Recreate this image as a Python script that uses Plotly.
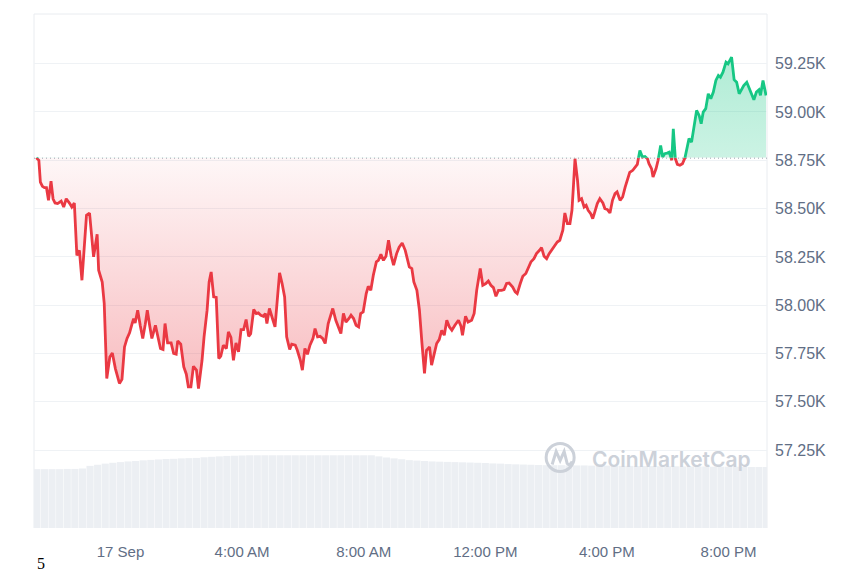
import pandas as pd
import plotly.graph_objects as go

# ---------------- data ----------------
start_time = pd.Timestamp("2024-09-16 21:14")
open_price = 58763

minutes = [0, 5, 8, 12, 16, 20, 24, 29, 33, 37, 42, 49, 54, 59, 66, 70, 75, 80, 85, 90,
           99, 105, 113, 120, 123, 130, 134, 139, 145, 150, 156, 164, 169, 174, 179, 184, 189, 192, 195, 200,
           205, 210, 215, 219, 223, 228, 235, 239, 245, 250, 254, 259, 266, 271, 276, 279, 285, 291, 296, 300,
           305, 310, 316, 320, 327, 331, 337, 341, 345, 350, 355, 360, 364, 369, 375, 379, 384, 389, 394, 399,
           404, 409, 414, 419, 423, 429, 434, 438, 443, 448, 452, 455, 460, 467, 471, 476, 480, 485, 490, 494,
           500, 504, 511, 515, 521, 525, 530, 535, 540, 546, 550, 555, 560, 565, 570, 576, 581, 585, 591, 596,
           601, 606, 611, 617, 621, 626, 631, 636, 640, 645, 651, 655, 660, 665, 671, 675, 680, 685, 690, 695,
           700, 705, 711, 716, 722, 728, 732, 736, 741, 745, 751, 756, 761, 766, 770, 776, 780, 785, 790, 795,
           800, 805, 810, 815, 820, 826, 833, 838, 841, 847, 852, 859, 864, 869, 876, 881, 887, 892, 897, 902,
           907, 912, 918, 923, 928, 933, 940, 945, 949, 955, 960, 966, 971, 976, 982, 987, 993, 997, 1002, 1007,
           1012, 1019, 1024, 1028, 1033, 1039, 1043, 1048, 1053, 1057, 1060, 1063, 1068, 1071, 1076, 1081, 1085, 1089, 1094, 1098,
           1102, 1107, 1112, 1118, 1122, 1127, 1132, 1137, 1142, 1146, 1152, 1157, 1162, 1166, 1171, 1177, 1181, 1186, 1191, 1196,
           1201, 1206, 1209, 1214, 1217, 1223, 1227, 1232, 1236, 1240, 1245, 1249, 1254, 1257, 1261, 1265, 1270, 1275, 1280, 1284,
           1288, 1293, 1298, 1303, 1308, 1312, 1316, 1321, 1326, 1331, 1336, 1341, 1346, 1350, 1355, 1361, 1365, 1372, 1377, 1382,
           1387, 1392, 1396, 1402, 1407, 1411, 1416, 1421, 1426, 1429, 1434, 1440]

prices = [58763, 58750, 58637, 58615, 58608, 58608, 58543, 58642, 58551, 58529, 58526, 58539, 58508, 58551, 58526, 58508, 58529, 58258, 58284, 58129,
          58465, 58477, 58250, 58367, 58181, 58120, 58009, 57621, 57732, 57753, 57672, 57595, 57616, 57784, 57828, 57857, 57905, 57931, 57908, 57974,
          57896, 57828, 57902, 57974, 57905, 57828, 57896, 57845, 57776, 57771, 57905, 57805, 57805, 57750, 57746, 57815, 57798, 57681, 57643, 57577,
          57577, 57684, 57664, 57569, 57715, 57836, 57974, 58120, 58172, 58043, 58040, 57724, 57736, 57793, 57776, 57862, 57833, 57715, 57805, 57758,
          57874, 57874, 57926, 57839, 57853, 57978, 57957, 57960, 57948, 57943, 57957, 57905, 57983, 57922, 57888, 58043, 58167, 58112, 58043, 57836,
          57771, 57798, 57793, 57767, 57715, 57664, 57776, 57746, 57793, 57828, 57879, 57836, 57839, 57828, 57802, 57905, 57948, 57983, 57922, 57888,
          57853, 57957, 57913, 57931, 57948, 57931, 57896, 57888, 57957, 57965, 58060, 58098, 58077, 58155, 58224, 58232, 58263, 58232, 58253, 58336,
          58258, 58207, 58267, 58300, 58322, 58284, 58241, 58198, 58190, 58120, 58077, 57974, 57802, 57647, 57767, 57784, 57690, 57750, 57802, 57822,
          57870, 57845, 57922, 57888, 57870, 57896, 57922, 57891, 57845, 57943, 57913, 57922, 57957, 58077, 58190, 58103, 58112, 58125, 58103, 58091,
          58046, 58077, 58077, 58081, 58112, 58115, 58094, 58069, 58060, 58112, 58150, 58164, 58190, 58224, 58241, 58267, 58284, 58298, 58253, 58241,
          58267, 58293, 58315, 58327, 58336, 58388, 58477, 58422, 58422, 58491, 58620, 58758, 58646, 58543, 58551, 58508, 58517, 58491, 58474, 58448,
          58482, 58526, 58551, 58529, 58500, 58495, 58477, 58543, 58577, 58586, 58543, 58560, 58611, 58646, 58687, 58698, 58713, 58729, 58801, 58767,
          58770, 58758, 58732, 58707, 58663, 58707, 58750, 58827, 58767, 58784, 58787, 58792, 58750, 58913, 58758, 58729, 58724, 58732, 58763, 58818,
          58862, 58844, 58922, 59008, 58982, 58939, 58999, 59017, 59094, 59069, 59103, 59163, 59189, 59180, 59206, 59258, 59249, 59284, 59167, 59154,
          59094, 59115, 59137, 59154, 59120, 59091, 59063, 59103, 59115, 59086, 59163, 59086]

# 15-minute volume bars (billions USD)
volume_start = pd.Timestamp("2024-09-16 21:15")
volume = [26.7, 26.7, 26.7, 26.7, 26.8, 26.8, 27.0, 28.2, 28.7, 29.2, 29.6, 29.9, 30.2, 30.4, 30.7, 30.9,
          31.1, 31.3, 31.4, 31.6, 31.7, 31.8, 32.1, 32.3, 32.5, 32.7, 32.8, 32.9, 33.0,
          33.0, 33.0, 33.0, 33.0, 33.0, 33.0, 33.0, 33.0, 33.0, 33.0, 33.0, 33.0, 33.0, 33.0, 33.0, 33.0,
          32.5, 32.0, 31.6, 31.2, 30.8, 30.6, 30.4, 30.2, 30.1, 30.0, 29.9, 29.8, 29.7, 29.6, 29.5, 29.3,
          29.2, 29.0, 28.9, 28.8, 28.7, 28.6,
          28.5, 28.5, 28.5, 28.4, 28.4, 28.4, 28.3, 28.3, 28.3, 28.2, 28.2, 28.2, 28.1, 28.1, 28.1, 28.0,
          28.0, 28.0, 27.9, 27.9, 27.9, 27.9, 27.8, 27.8, 27.8, 27.8, 27.7, 27.7, 27.7, 27.7]

y_ticks = [57250, 57500, 57750, 58000, 58250, 58500, 58750, 59000, 59250]
y_tick_labels = ["57.25K", "57.50K", "57.75K", "58.00K", "58.25K", "58.50K", "58.75K", "59.00K", "59.25K"]
x_ticks = ["2024-09-17 00:00", "2024-09-17 04:00", "2024-09-17 08:00",
           "2024-09-17 12:00", "2024-09-17 16:00", "2024-09-17 20:00"]
x_tick_labels = ["17 Sep", "4:00 AM", "8:00 AM", "12:00 PM", "4:00 PM", "8:00 PM"]

# ---------------- derived ----------------
times = start_time + pd.to_timedelta(minutes, unit="min")
vol_times = pd.date_range(volume_start, periods=len(volume), freq="15min")

Y_MIN, Y_MAX = 56847, 59507
split = (open_price - Y_MIN) / (Y_MAX - Y_MIN)
X_RANGE = ["2024-09-16 21:09:24", "2024-09-17 21:15:54"]

RED = "#ea3943"
GREEN = "#16c784"
GRID = "#eff2f5"
TXT = "#616e85"
FONT = "Liberation Sans, Arial, sans-serif"

fig = go.Figure()

# volume bars
fig.add_trace(go.Bar(x=vol_times, y=volume, yaxis="y3", marker=dict(color="#eceff3", line=dict(width=0)),
                     hoverinfo="skip", showlegend=False))

# red part (below the open price)
fig.add_trace(go.Scatter(x=[times[0], times[-1]], y=[open_price, open_price], yaxis="y",
                         mode="lines", line=dict(width=0, color="rgba(0,0,0,0)"),
                         hoverinfo="skip", showlegend=False))
fig.add_trace(go.Scatter(x=times, y=prices, yaxis="y", mode="lines",
                         line=dict(color=RED, width=2.8), fill="tonexty",
                         fillgradient=dict(type="vertical",
                                           colorscale=[[0, "rgba(234,57,67,0.34)"], [1, "rgba(234,57,67,0.04)"]],
                                           start=57560, stop=open_price),
                         hoverinfo="skip", showlegend=False))

# green part (above the open price)
fig.add_trace(go.Scatter(x=[times[0], times[-1]], y=[open_price, open_price], yaxis="y2",
                         mode="lines", line=dict(width=0, color="rgba(0,0,0,0)"),
                         hoverinfo="skip", showlegend=False))
fig.add_trace(go.Scatter(x=times, y=prices, yaxis="y2", mode="lines",
                         line=dict(color=GREEN, width=2.8), fill="tonexty",
                         fillgradient=dict(type="vertical",
                                           colorscale=[[0, "rgba(22,199,132,0.22)"], [1, "rgba(22,199,132,0.34)"]],
                                           start=open_price, stop=59290),
                         hoverinfo="skip", showlegend=False))

red_ticks = [v for v in y_ticks if v <= open_price]
green_ticks = [v for v in y_ticks if v > open_price]

axis_common = dict(side="right", showgrid=True, gridcolor=GRID, gridwidth=1, zeroline=False,
                   showline=False, ticks="", tickfont=dict(family=FONT, size=16, color=TXT),
                   ticklabelstandoff=7, fixedrange=True, anchor="x", automargin=False)

fig.update_layout(
    width=860, height=573,
    margin=dict(l=34, r=93, t=14, b=45, autoexpand=False),
    paper_bgcolor="white", plot_bgcolor="white",
    bargap=0.06,
    hovermode=False,
    xaxis=dict(type="date", range=X_RANGE, anchor="y", showgrid=False, zeroline=False, showline=False,
               ticks="", tickvals=x_ticks, ticktext=x_tick_labels, ticklabelstandoff=13, automargin=False,
               fixedrange=True, tickfont=dict(family=FONT, size=15, color=TXT)),
    yaxis=dict(domain=[0, split], range=[Y_MIN, open_price],
               tickvals=red_ticks,
               ticktext=[y_tick_labels[y_ticks.index(v)] for v in red_ticks], **axis_common),
    yaxis2=dict(domain=[split, 1], range=[open_price, Y_MAX],
                tickvals=green_ticks,
                ticktext=[y_tick_labels[y_ticks.index(v)] for v in green_ticks], **axis_common),
    yaxis3=dict(overlaying="y", range=[0, 168], visible=False, fixedrange=True, automargin=False),
)

# frame lines
for s in [dict(x0=0, x1=0, y0=0, y1=1), dict(x0=1, x1=1, y0=0, y1=1), dict(x0=0, x1=1, y0=1, y1=1)]:
    fig.add_shape(type="line", xref="paper", yref="paper", line=dict(color="#e9ecf0", width=1), layer="below", **s)

# dotted open-price line
fig.add_shape(type="line", xref="paper", yref="y", x0=0, x1=1, y0=open_price, y1=open_price,
              line=dict(color="#7f8898", width=1.3, dash="1px,3px"), layer="above")

# watermark
WM = "#ccd1d9"
fig.add_annotation(text="CoinMarketCap", xref="paper", yref="paper", x=0.7587, y=0.1342,
                   xanchor="left", yanchor="middle", showarrow=False,
                   font=dict(family="Inter, sans-serif", size=21, color=WM, weight=600))
fig.add_shape(type="circle", xref="paper", yref="paper", xsizemode="pixel", ysizemode="pixel",
              xanchor=0.7178, yanchor=0.1372, x0=-14, x1=14, y0=-14, y1=14,
              line=dict(color=WM, width=3))
fig.add_shape(type="path", xref="paper", yref="paper", xsizemode="pixel", ysizemode="pixel",
              xanchor=0.7178, yanchor=0.1372,
              path="M -8,-7 L -4,6 L 0,-3 L 4,6 L 7,-6 Q 9,-9 12,-4",
              line=dict(color=WM, width=3))

# stray label at the bottom left
fig.add_annotation(text="5", xref="paper", yref="paper", x=0.0089, y=-0.069,
                   xanchor="center", yanchor="middle", showarrow=False,
                   font=dict(family="Liberation Serif, serif", size=16, color="black"))

fig.write_html("out.html", config={"displayModeBar": False, "staticPlot": True},
               post_script="document.body.style.margin='0px';document.body.style.overflow='hidden';")
